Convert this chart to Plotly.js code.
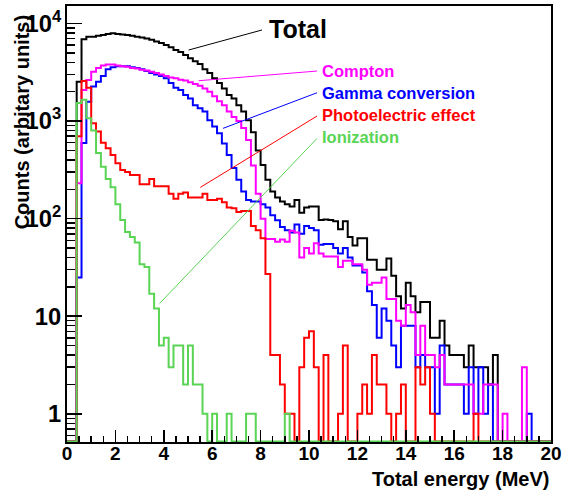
<!DOCTYPE html>
<html><head><meta charset="utf-8">
<script src="https://cdn.plot.ly/plotly-3.0.1.min.js"></script>
<style>html,body{margin:0;padding:0;background:#fff;} #chart{width:562px;height:495px;}</style>
</head><body><div id="chart"></div>
<script>
// Histogram binning (MeV)
const binLow = 0, binWidth = 0.2, nBins = 100;

// Counts per 0.2 MeV bin, bins 0..99
const total = [0,0,2530,6900,7300,7300,7500,7600,7800,7950,
  7800,7700,7600,7500,7300,7200,7000,6800,6550,6300,
  6000,5700,5350,5100,4750,4400,4100,3850,3400,3100,
  2750,2450,2150,1850,1700,1450,1250,1020,770,500,
  355,250,190,165,150,140,133,155,115,130,
  133,133,97,98,97,94,78,94,65,53,
  63,63,38,38,30,30,39,26,16,12,
  22,16,11,14,14,6,6,9,5,4,
  4,4,3,5,3,3,3,2,4,0,
  0,0,0,0,0,0,0,0,0,0];
const compton = [0,0,230,2080,2640,3200,3500,3700,3800,3800,
  3700,3650,3600,3500,3450,3350,3300,3200,3100,3000,
  2900,2800,2750,2650,2600,2500,2400,2300,2150,2000,
  1800,1600,1450,1250,1100,1000,850,640,350,180,
  100,62,62,58,61,58,75,72,40,50,
  44,56,44,41,41,41,32,37,37,34,
  34,30,21,22,22,25,15,15,9,8,
  13,11,4,8,4,4,3,4,2,2,
  2,2,2,2,1,1,2,2,2,0,
  1,0,0,0,3,0,0,0,0,0];
const gammaConv = [0,0,25,595,1580,2260,2530,2900,3400,3550,
  3650,3650,3650,3550,3500,3400,3250,3100,3000,2900,
  2750,2460,2200,2080,1850,1700,1450,1350,1250,1020,
  880,750,590,450,330,250,190,155,150,150,
  140,130,108,96,82,76,72,87,70,84,
  80,76,54,55,55,50,44,50,40,33,
  33,28,18,13,6,12,9,5,3,8,
  8,8,3,4,3,3,1,5,2,2,
  2,2,1,3,1,3,1,2,0,0,
  0,0,0,0,0,1,0,0,0,0];
const photo = [0,0,700,2570,2200,950,780,600,525,450,
  370,315,300,280,280,225,225,255,215,215,
  215,180,160,180,185,165,165,165,180,155,
  155,160,147,130,128,117,120,120,84,76,
  63,27,4,4,2,1,1,0,3,6,
  7,3,0,4,0,0,1,5,0,0,
  1,2,1,4,2,2,1,0,1,2,
  0,0,3,2,3,1,0,0,0,0,
  0,0,0,0,1,0,0,0,0,0,
  0,0,0,0,0,0,0,0,0,0];
const ionization = [0,0,1530,1650,1070,800,470,340,255,210,
  140,97,73,65,57,34,32,17,12,5,
  6,3,5,5,2,5,2,2,1,0,
  1,0,0,1,0,0,0,1,1,0,
  0,0,0,0,0,1,0,0,0,0,
  0,0,0,0,0,0,0,0,0,0,
  0,0,0,0,0,0,0,0,0,0,
  0,0,0,0,0,0,0,0,0,0,
  0,0,0,0,0,0,0,0,0,0,
  0,0,0,0,0,0,0,0,0,0];

const seriesNames = ['Total','Gamma conversion','Compton','Photoelectric effect','Ionization'];
const seriesData  = [total, gammaConv, compton, photo, ionization];
const seriesColors = ['#000000','#0000ff','#ff00ff','#ff0000','#59d454'];

const yLogRange = [-0.289, 4.179];
const floorVal = Math.pow(10, yLogRange[0] + 0.006);

const edges = [];
for (let i = 0; i <= nBins; i++) edges.push(+(binLow + i*binWidth).toFixed(4));

const traces = seriesData.map((vals, k) => {
  const y = vals.map(v => v > 0 ? v : floorVal);
  y.push(y[y.length-1]);
  return {type:'scatter', mode:'lines', x: edges, y: y, name: seriesNames[k],
    line:{shape:'hv', color: seriesColors[k], width:2}, hoverinfo:'skip'};
});

const FONT = 'Liberation Sans, Arial, Helvetica, sans-serif';
const labels = [
  {text:'Total', color:'#000000', size:25, x:0.4138, y:0.9466, lx0:0.2512, ly0:0.899, lx1:0.4029, ly1:0.945},
  {text:'Compton', color:'#ff00ff', size:16.5, x:0.5233, y:0.8514, lx0:0.2719, ly0:0.8286, lx1:0.5165, ly1:0.8508},
  {text:'Gamma conversion', color:'#0000ff', size:16.5, x:0.5233, y:0.7999, lx0:0.3223, ly0:0.7193, lx1:0.5165, ly1:0.801},
  {text:'Photoelectric effect', color:'#ff0000', size:16.5, x:0.5233, y:0.7509, lx0:0.2754, ly0:0.5839, lx1:0.5165, ly1:0.7475},
  {text:'Ionization', color:'#59d454', size:16.5, x:0.5233, y:0.6995, lx0:0.1913, ly0:0.3177, lx1:0.5165, ly1:0.6963}
];

const annotations = labels.map(l => ({xref:'paper', yref:'paper', x:l.x, y:l.y, xanchor:'left', yanchor:'middle',
  text:l.text, showarrow:false, font:{family:FONT, size:l.size, color:l.color, weight:'bold'}}));
annotations.push({xref:'paper', yref:'paper', x:1.0, y:-0.0844, xanchor:'right', yanchor:'middle',
  text:'Total energy (MeV)', showarrow:false, font:{family:FONT, size:20, color:'#000', weight:'bold'}});
annotations.push({xref:'paper', yref:'paper', x:-0.0935, y:0.7326, xanchor:'center', yanchor:'middle', textangle:-90,
  text:'Counts (arbitary units)', showarrow:false, font:{family:FONT, size:20, color:'#000', weight:'bold'}});

const shapes = labels.map(l => ({type:'line', xref:'paper', yref:'paper', x0:l.lx0, y0:l.ly0, x1:l.lx1, y1:l.ly1,
  line:{color:l.color, width:1}}));

const layout = {
  width:562, height:495,
  margin:{l:67, r:11, t:6, b:53},
  paper_bgcolor:'#fff', plot_bgcolor:'#fff',
  showlegend:false,
  xaxis:{range:[0,20], tick0:0, dtick:2, ticks:'inside', ticklen:12, tickwidth:1.5, tickcolor:'#000',
    minor:{ticks:'inside', ticklen:6, dtick:0.5, tickwidth:1.5, tickcolor:'#000'},
    ticklabelstandoff:-7,
    showline:true, linecolor:'#000', linewidth:2, mirror:true, showgrid:false, zeroline:false,
    tickfont:{family:FONT, size:19, color:'#000', weight:'bold'}},
  yaxis:{type:'log', range:yLogRange, dtick:1, exponentformat:'power', ticks:'inside', ticklen:15, tickwidth:1.5, tickcolor:'#000',
    minor:{ticks:'inside', ticklen:8, dtick:'D1', tickwidth:1.5, tickcolor:'#000'},
    showline:true, linecolor:'#000', linewidth:2, mirror:true, showgrid:false, zeroline:false,
    tickfont:{family:FONT, size:19, color:'#000', weight:'bold'}},
  annotations: annotations,
  shapes: shapes
};

Plotly.newPlot('chart', traces, layout, {staticPlot:true, displayModeBar:false});
</script>
</body></html>
